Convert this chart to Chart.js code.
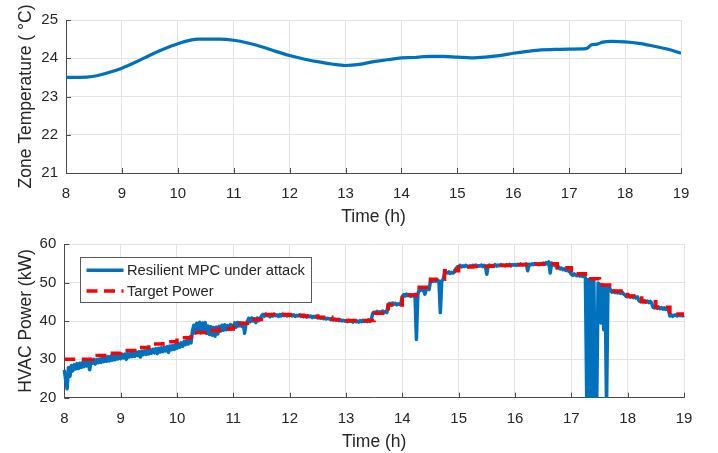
<!DOCTYPE html>
<html>
<head>
<meta charset="utf-8">
<script src="https://cdn.jsdelivr.net/npm/chart.js@4.4.1/dist/chart.umd.min.js"></script>
<style>
  html, body { margin: 0; padding: 0; background: #fff; }
  #wrap { position: relative; width: 718px; height: 453px; }
  canvas { position: absolute; left: 0; }
  #temp { top: 0; }
  #power { top: 226px; }
</style>
</head>
<body>
<div id="wrap">
  <canvas id="temp" width="718" height="226"></canvas>
  <canvas id="power" width="718" height="227"></canvas>
</div>
<script>
// ── Data ──────────────────────────────────────────────────────────────
const HOUR_TICKS = [8, 9, 10, 11, 12, 13, 14, 15, 16, 17, 18, 19];
const TEMP_TICKS = [21, 22, 23, 24, 25];
const POWER_TICKS = [20, 30, 40, 50, 60];

// zone temperature (°C) vs time (h)
const TEMP_TIMES = [8.0, 8.25, 8.5, 8.75, 9.0, 9.25, 9.5, 9.75, 10.0, 10.25, 10.35, 10.5, 10.75,
  11.0, 11.25, 11.5, 11.75, 12.0, 12.25, 12.5, 12.75, 13.0, 13.25, 13.5, 13.75,
  14.0, 14.25, 14.35, 14.5, 14.75, 15.0, 15.25, 15.5, 15.75, 16.0, 16.25, 16.5, 16.75,
  17.0, 17.3, 17.4, 17.5, 17.6, 17.75, 18.0, 18.25, 18.5, 18.75, 19.0];
const TEMP_VALUES = [23.50, 23.50, 23.53, 23.62, 23.74, 23.90, 24.08, 24.24, 24.38, 24.48, 24.50, 24.50, 24.50,
  24.47, 24.40, 24.30, 24.18, 24.07, 23.98, 23.91, 23.85, 23.81, 23.84, 23.91, 23.96,
  24.01, 24.02, 24.04, 24.05, 24.05, 24.03, 24.01, 24.03, 24.07, 24.13, 24.18, 24.22, 24.23,
  24.24, 24.25, 24.35, 24.37, 24.42, 24.44, 24.43, 24.39, 24.32, 24.24, 24.13];

// target power (kW), one level per quarter hour
const TARGET_TIMES = [8.0, 8.25, 8.5, 8.75, 9.0, 9.25, 9.5, 9.75, 10.0, 10.25, 10.5, 10.75,
  11.0, 11.25, 11.5, 11.75, 12.0, 12.25, 12.5, 12.75, 13.0, 13.25, 13.5, 13.75,
  14.0, 14.25, 14.5, 14.75, 15.0, 15.25, 15.5, 15.75, 16.0, 16.25, 16.5, 16.75,
  17.0, 17.25, 17.5, 17.75, 18.0, 18.25, 18.5, 18.75, 19.0];
const TARGET_KW = [30.0, 30.0, 31.0, 31.6, 32.3, 33.1, 34.0, 34.6, 35.6, 37.0, 37.5, 37.9,
  39.4, 40.4, 41.7, 41.7, 41.5, 41.3, 41.0, 40.4, 40.1, 40.1, 42.0, 44.2,
  46.8, 48.8, 50.9, 53.1, 54.1, 54.2, 54.3, 54.5, 54.7, 54.8, 54.9, 53.9,
  52.3, 51.0, 49.4, 47.8, 46.5, 45.0, 43.6, 41.8, 41.7];

// measured HVAC power (kW), sampled every 0.025 h from 8:00, two rows per hour
const POWER_START = 8;
const POWER_STEP = 0.025;
const POWER_KW = [
  27.2, 24.6, 22.3, 27.9, 25.6, 28.4, 27.0, 28.6, 27.5, 28.9, 27.6, 29.0, 27.9, 29.2, 28.1, 29.4, 28.3, 29.5, 27.3, 29.6,
  29.0, 30.0, 28.8, 29.9, 29.1, 30.1, 29.2, 30.3, 29.4, 30.5, 29.5, 30.7, 29.6, 30.8, 29.8, 31.0, 29.9, 31.1, 30.1, 31.2,
  30.2, 31.3, 30.4, 31.4, 30.0, 31.5, 30.6, 31.6, 30.7, 31.8, 30.8, 31.9, 31.0, 32.0, 30.6, 32.1, 31.2, 32.2, 31.3, 32.4,
  31.4, 32.5, 31.6, 32.6, 31.7, 32.8, 31.5, 32.9, 31.9, 33.0, 32.0, 33.2, 32.2, 33.3, 31.8, 33.5, 32.5, 33.6, 32.6, 33.8,
  32.9, 34.1, 33.2, 34.3, 33.4, 34.6, 33.8, 34.9, 34.0, 35.1, 34.3, 37.4, 38.9, 36.8, 39.4, 37.2, 39.7, 36.9, 39.5, 37.0,
  39.6, 36.8, 38.7, 36.5, 38.5, 36.3, 38.3, 36.0, 38.4, 36.6, 38.6, 37.4, 38.9, 37.6, 39.0, 37.7, 38.8, 37.8, 39.1, 38.0,
  38.5, 39.5, 38.4, 39.6, 38.7, 39.5, 38.6, 39.4, 36.8, 39.2, 39.9, 40.7, 39.8, 40.8, 40.0, 40.6, 39.6, 40.8, 40.1, 40.6,
  41.3, 41.7, 41.2, 41.8, 41.4, 41.6, 41.1, 41.7, 41.3, 41.8, 41.4, 41.6, 41.2, 41.7, 41.3, 41.8, 41.4, 41.6, 41.3, 41.7,
  41.4, 41.7, 41.3, 41.6, 41.2, 41.5, 41.3, 41.6, 41.2, 41.4, 41.1, 41.3, 41.0, 41.4, 41.1, 41.3, 40.9, 41.2, 41.0, 41.1,
  40.8, 41.0, 40.7, 40.9, 40.6, 40.8, 40.5, 40.7, 40.6, 40.4, 40.6, 40.3, 40.5, 40.2, 40.4, 40.1, 40.3, 40.0, 40.2, 40.0,
  40.1, 39.8, 40.2, 39.9, 40.0, 39.7, 40.1, 39.8, 40.0, 39.7, 40.1, 39.8, 40.2, 39.9, 40.1, 39.8, 40.3, 39.9, 40.4, 42.0,
  42.3, 42.1, 42.5, 42.2, 42.4, 42.1, 42.6, 42.3, 42.5, 42.2, 44.3, 44.6, 44.3, 44.7, 44.4, 44.6, 44.2, 44.5, 44.3, 44.6,
  46.4, 46.9, 46.5, 47.0, 46.6, 46.9, 46.4, 46.8, 46.5, 46.9, 35.2, 46.8, 48.3, 48.0, 48.4, 48.1, 47.0, 48.3, 48.6, 48.2,
  50.4, 50.7, 50.3, 50.6, 50.4, 50.7, 50.3, 42.2, 50.5, 50.8, 52.4, 52.7, 52.5, 52.8, 52.4, 52.7, 52.5, 52.8, 53.6, 54.1,
  54.2, 54.5, 54.1, 54.4, 54.2, 54.5, 54.3, 54.1, 54.4, 54.2, 54.5, 54.3, 54.6, 54.2, 54.4, 54.3, 54.6, 54.2, 54.5, 54.3,
  52.2, 54.4, 54.6, 54.3, 54.5, 54.4, 54.7, 54.3, 54.6, 54.4, 54.7, 54.5, 54.6, 54.4, 54.7, 54.5, 54.8, 54.4, 54.7, 54.6,
  54.7, 54.5, 54.8, 54.6, 54.9, 54.6, 54.8, 54.7, 54.9, 53.1, 54.8, 54.6, 54.9, 54.7, 55.0, 54.8, 54.9, 54.7, 55.0, 54.8,
  55.1, 54.8, 55.2, 54.9, 55.4, 52.5, 55.1, 54.6, 54.8, 54.3, 53.9, 54.1, 53.6, 53.8, 53.4, 53.6, 53.2, 53.4, 53.0, 52.8,
  52.2, 51.9, 52.3, 52.0, 51.8, 52.1, 51.7, 52.0, 51.6, 51.9, 51.2, 18.0, 50.8, 18.0, 50.6, 18.0, 50.4, 18.0, 18.0, 49.9,
  49.6, 39.5, 49.5, 37.7, 49.2, 18.0, 49.0, 48.8, 47.9, 47.5, 47.8, 47.4, 47.7, 47.3, 47.6, 47.2, 47.5, 47.1, 46.8, 46.4,
  46.3, 46.6, 46.2, 46.5, 46.1, 46.4, 46.0, 46.3, 45.3, 45.1, 45.4, 45.0, 45.3, 44.9, 45.2, 44.8, 45.1, 44.7, 43.6, 43.4,
  43.7, 43.3, 43.6, 43.2, 43.5, 43.1, 43.4, 43.0, 43.3, 42.9, 41.3, 41.6, 41.2, 41.5, 41.6, 41.3, 41.7, 41.4, 41.6, 41.3,
  41.5
];

// ── Styling ───────────────────────────────────────────────────────────
const FONT = "'Liberation Sans', Arial, Helvetica, sans-serif";
const TEXT_COLOR = '#262626';
const AXIS_COLOR = '#4a4a4a';
const GRID_COLOR = '#e3e3e3';
const BLUE = '#0072bd';
const RED = '#ff0000';

// MATLAB-style ticks pointing into the plot (left and bottom only)
const innerTicks = {
  id: 'innerTicks',
  beforeDatasetsDraw(chart) {
    const { ctx, chartArea: a, scales: { x, y } } = chart;
    ctx.save();
    ctx.strokeStyle = AXIS_COLOR;
    ctx.lineWidth = 1;
    ctx.beginPath();
    x.ticks.forEach(t => {
      const px = Math.round(x.getPixelForValue(t.value)) + 0.5;
      ctx.moveTo(px, a.bottom);
      ctx.lineTo(px, a.bottom - 5);
    });
    y.ticks.forEach(t => {
      const py = Math.round(y.getPixelForValue(t.value)) + 0.5;
      ctx.moveTo(a.left, py);
      ctx.lineTo(a.left + 5, py);
    });
    ctx.stroke();
    ctx.restore();
  }
};

function makeScales(yMin, yMax, yTicks, yTitle, yWidth) {
  return {
    x: {
      type: 'linear', min: 8, max: 19,
      afterBuildTicks: s => { s.ticks = HOUR_TICKS.map(v => ({ value: v })); },
      afterFit: s => { s.height = 53; },
      grid: { color: GRID_COLOR, lineWidth: 1, drawTicks: false },
      border: { color: AXIS_COLOR, width: 1 },
      ticks: { color: TEXT_COLOR, font: { family: FONT, size: 15 }, padding: 12, maxRotation: 0, autoSkip: false },
      title: { display: true, text: 'Time (h)', color: TEXT_COLOR, font: { family: FONT, size: 17.5 }, padding: { top: 0, bottom: -1.5 } }
    },
    y: {
      type: 'linear', min: yMin, max: yMax,
      afterBuildTicks: s => { s.ticks = yTicks.map(v => ({ value: v })); },
      afterFit: s => { s.width = yWidth; },
      grid: { color: GRID_COLOR, lineWidth: 1, drawTicks: false },
      border: { color: AXIS_COLOR, width: 1 },
      ticks: { color: TEXT_COLOR, font: { family: FONT, size: 15 }, padding: 8 },
      title: { display: true, text: yTitle, color: TEXT_COLOR, font: { family: FONT, size: 17.5 }, padding: { top: 15.5, bottom: 0 } }
    }
  };
}

const common = {
  responsive: false,
  animation: false,
  devicePixelRatio: 1,
  plugins: { legend: { display: false }, tooltip: { enabled: false } },
  elements: { point: { radius: 0 } }
};

// ── Top: zone temperature ─────────────────────────────────────────────
new Chart(document.getElementById('temp'), {
  type: 'line',
  plugins: [innerTicks],
  data: {
    datasets: [{
      label: 'Zone Temperature',
      data: TEMP_TIMES.map((t, i) => ({ x: t, y: TEMP_VALUES[i] })),
      borderColor: BLUE,
      borderWidth: 3.2,
      cubicInterpolationMode: 'monotone',
      fill: false
    }]
  },
  options: {
    ...common,
    layout: { padding: { top: 20, right: 37, left: 0, bottom: 0 } },
    scales: makeScales(21, 25, TEMP_TICKS, 'Zone Temperature ( °C)', 66)
  }
});

// ── Bottom: HVAC power ────────────────────────────────────────────────
// boxed legend in the upper-left corner of the plot
const boxLegend = {
  id: 'boxLegend',
  afterDraw(chart) {
    const { ctx, chartArea: a } = chart;
    const x0 = Math.round(a.left + 15.7) + 0.5;
    const y0 = Math.round(a.top + 12.4) + 0.5;
    const w = 231, h = 45;
    ctx.save();
    ctx.fillStyle = '#ffffff';
    ctx.fillRect(x0, y0, w, h);
    ctx.strokeStyle = '#5a5a5a';
    ctx.lineWidth = 1;
    ctx.strokeRect(x0, y0, w, h);
    const rows = [chart.data.datasets[1], chart.data.datasets[0]];
    rows.forEach((ds, i) => {
      const cy = y0 + 12.8 + i * 20.7;
      ctx.beginPath();
      ctx.strokeStyle = ds.borderColor;
      ctx.lineWidth = ds.borderWidth;
      ctx.setLineDash(ds.borderDash || []);
      ctx.moveTo(x0 + 6, cy);
      ctx.lineTo(x0 + 43, cy);
      ctx.stroke();
      ctx.setLineDash([]);
      ctx.fillStyle = TEXT_COLOR;
      ctx.font = '14.7px ' + FONT;
      ctx.textBaseline = 'middle';
      ctx.textAlign = 'left';
      ctx.fillText(ds.label, x0 + 46.5, cy + 0.5);
    });
    ctx.restore();
  }
};

new Chart(document.getElementById('power'), {
  type: 'line',
  plugins: [innerTicks, boxLegend],
  data: {
    datasets: [
      {
        label: 'Target Power',
        data: TARGET_TIMES.map((t, i) => ({ x: t, y: TARGET_KW[i] })),
        borderColor: RED,
        borderWidth: 3.5,
        borderDash: [11, 6.5],
        stepped: true,
        fill: false,
        order: 0
      },
      {
        label: 'Resilient MPC under attack',
        data: POWER_KW.map((v, i) => ({ x: POWER_START + i * POWER_STEP, y: v })),
        borderColor: BLUE,
        borderWidth: 3.5,
        borderJoinStyle: 'round',
        tension: 0,
        fill: false,
        clip: { left: 2, right: 2, top: 2, bottom: 0 },
        order: 1
      }
    ]
  },
  options: {
    ...common,
    layout: { padding: { top: 18.3, right: 34, left: 0, bottom: 2.3 } },
    scales: makeScales(20, 60, POWER_TICKS, 'HVAC Power (kW)', 64.3)
  }
});
</script>
</body>
</html>
